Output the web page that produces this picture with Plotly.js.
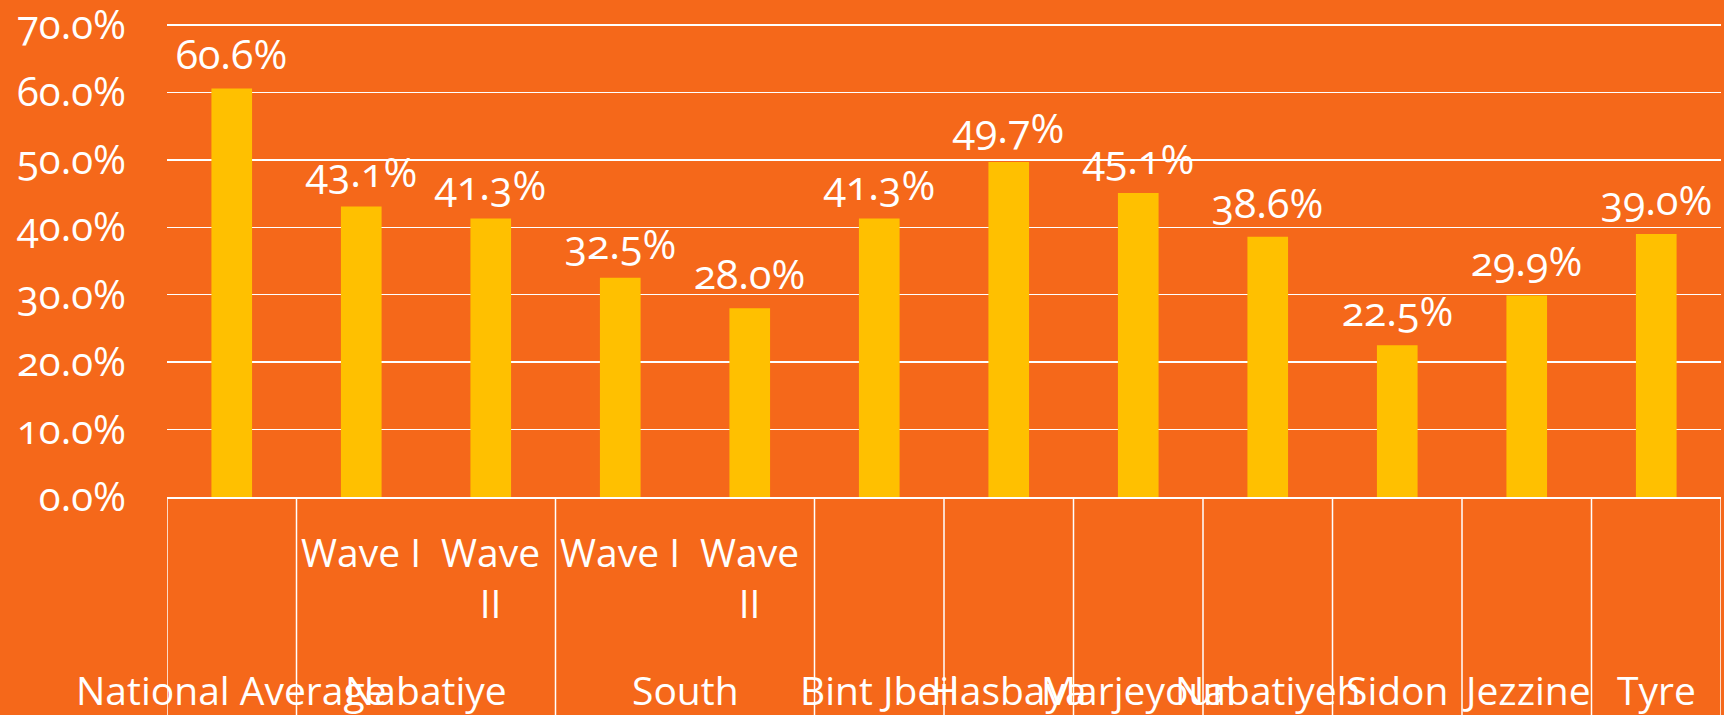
<!DOCTYPE html>
<html>
<head>
<meta charset="utf-8">
<script src="https://cdn.plot.ly/plotly-3.0.1.min.js"></script>
<style>
html,body{margin:0;padding:0;background:#F5681A;}
.main-svg text{font-feature-settings:"onum" 1;}
</style>
</head>
<body>
<div id="chart" style="width:1724px;height:715px;"></div>
<script>
// ---- data ----
const groups = ["National Average","Nabatiye","Nabatiye","South","South","Bint Jbeil","Hasbaya","Marjeyoun","Nabatiyeh","Sidon","Jezzine","Tyre"];
const waves  = ["","Wave I","Wave<br>II","Wave I","Wave<br>II","","","","","","",""];
const values = [60.6, 43.1, 41.3, 32.5, 28.0, 41.3, 49.7, 45.1, 38.6, 22.5, 29.9, 39.0];
const groupNames = ["National Average","Nabatiye","South","Bint Jbeil","Hasbaya","Marjeyoun","Nabatiyeh","Sidon","Jezzine","Tyre"];
const yTicks = [0,10,20,30,40,50,60,70];

// ---- build ----
const ids = groups.map((g,i)=> g + (waves[i] ? " | " + waves[i].replace("<br>"," ") : "") );
const BG = "#F5681A", BAR = "#FFC000", FG = "#FFFFFF";
const FONT = "Open Sans, sans-serif";

const trace = {
  type: "bar",
  x: ids,
  y: values,
  marker: {color: BAR},
  hoverinfo: "none"
};

const annotations = [];
// data labels
values.forEach((v,i)=>{
  annotations.push({
    x: ids[i], y: v, xref: "x", yref: "y",
    text: v.toFixed(1) + "%",
    showarrow: false, yanchor: "bottom", xanchor: "center", yshift: 5,
    font: {family: FONT, size: 41, color: FG}
  });
});
// wave labels
waves.forEach((w,i)=>{
  if (!w) return;
  annotations.push({
    x: ids[i], y: -0.054, xref: "x", yref: "paper",
    text: w, showarrow: false, yanchor: "top", xanchor: "center", align: "center",
    font: {family: FONT, size: 39, color: FG}
  });
});
// group labels (centered over their member categories)
const dividers = [-0.5];
groupNames.forEach(name=>{
  const idx = groups.map((g,i)=> g===name ? i : -1).filter(i=>i>=0);
  const c = (idx[0] + idx[idx.length-1]) / 2;
  dividers.push(idx[idx.length-1] + 0.5);
  annotations.push({
    x: c, y: -0.406, xref: "x", yref: "paper",
    text: name, showarrow: false, yanchor: "middle", xanchor: "center",
    font: {family: FONT, size: 39, color: FG}
  });
});

const shapes = dividers.map(d=>({
  type: "line", xref: "x", yref: "paper",
  x0: d, x1: d, y0: 0, y1: -0.47,
  line: {color: FG, width: 1.5}
}));

const layout = {
  width: 1724, height: 715,
  paper_bgcolor: BG, plot_bgcolor: BG,
  margin: {l: 167, r: 3, t: 24, b: 218},
  showlegend: false,
  bargap: 0.686,
  font: {family: FONT, color: FG},
  xaxis: {
    type: "category", categoryorder: "array", categoryarray: ids,
    range: [-0.5, ids.length - 0.5],
    showticklabels: false, showgrid: false, zeroline: false,
    showline: true, linecolor: FG, linewidth: 2, ticks: ""
  },
  yaxis: {
    range: [0, 70.15], tickvals: yTicks,
    ticktext: yTicks.map(t=> t.toFixed(1) + "%"),
    showgrid: true, gridcolor: FG, gridwidth: 1.5,
    zeroline: false, showline: false, ticks: "",
    ticklabelstandoff: 40, ticklabeloverflow: "allow",
    tickfont: {family: FONT, size: 40, color: FG}
  },
  annotations: annotations,
  shapes: shapes
};

Plotly.newPlot("chart", [trace], layout, {displayModeBar: false, staticPlot: true});
</script>
</body>
</html>
